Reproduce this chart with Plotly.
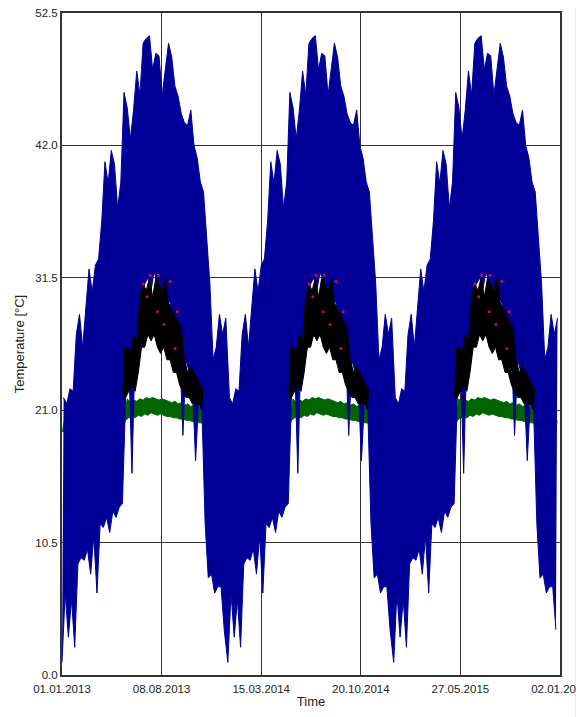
import plotly.graph_objects as go
from datetime import datetime, timedelta

# The reference repeats the same annual profile for 2013, 2014 and 2015.
years = [2013, 2014, 2015]

# Weekly envelope of the blue series (week 0 = 1 January), in degC
blue_weekly_max = [22.0, 21.5, 22.7, 22.5, 27.0, 28.6, 26.0, 29.1, 32.2, 30.4,
                   32.5, 33.0, 36.0, 40.7, 39.0, 41.6, 40.5, 37.0, 39.1, 46.2,
                   45.0, 42.5, 44.8, 47.9, 46.0, 50.1, 50.5, 50.7, 48.0, 49.3,
                   49.1, 46.0, 48.3, 50.1, 49.0, 46.7, 45.9, 44.5, 43.8, 43.6,
                   44.8, 42.0, 41.0, 39.1, 38.3, 35.0, 31.0, 25.0, 26.0, 28.6,
                   27.0, 28.3]
blue_weekly_min = [1.0, 6.5, 3.0, 6.0, 2.2, 8.8, 9.3, 9.1, 10.0, 8.0,
                   11.0, 6.5, 12.0, 11.7, 12.5, 11.3, 13.0, 12.5, 13.3, 13.6,
                   22.0, 25.0, 16.0, 26.0, 28.0, 30.0, 31.0, 31.5, 30.5, 32.0,
                   31.0, 30.5, 31.0, 30.0, 29.5, 28.0, 27.0, 26.0, 19.0, 25.0,
                   24.0, 23.0, 17.0, 22.0, 21.0, 12.0, 7.7, 8.0, 6.5, 7.0,
                   7.0, 3.6]

# Weekly envelope of the green series
green_weekly_max = [20.1, 20.2, 20.1, 20.2, 20.1, 20.2, 20.1, 20.2, 20.1, 20.2,
                    20.1, 20.2, 20.1, 20.2, 20.1, 20.2, 20.1, 20.2, 20.1, 20.2,
                    21.9, 21.6, 21.8, 21.7, 21.9, 21.8, 22.0, 21.9, 22.0, 21.9,
                    21.8, 21.9, 21.8, 21.7, 21.6, 21.7, 21.5, 21.6, 21.4, 21.5,
                    21.3, 21.4, 21.2, 21.3, 21.2, 20.1, 20.2, 20.1, 20.2, 20.1,
                    20.2, 20.1]
green_weekly_min = [19.3, 19.4, 19.3, 19.4, 19.3, 19.4, 19.3, 19.4, 19.3, 19.4,
                    19.3, 19.4, 19.3, 19.4, 19.3, 19.4, 19.3, 19.4, 19.3, 19.4,
                    20.2, 20.4, 20.5, 20.4, 20.6, 20.5, 20.7, 20.6, 20.8, 20.7,
                    20.6, 20.7, 20.6, 20.5, 20.5, 20.4, 20.4, 20.3, 20.3, 20.2,
                    20.2, 20.1, 20.1, 20.0, 20.0, 19.3, 19.4, 19.3, 19.4, 19.3,
                    19.4, 19.3]

# Black series (summer weeks only)
black_weeks = list(range(19, 45))
black_weekly_max = [26.0, 26.0, 25.5, 27.0, 26.5, 30.0, 31.0, 30.5, 31.5, 30.0,
                    31.5, 31.0, 30.5, 31.5, 29.5, 29.0, 28.5, 28.0, 27.5, 25.0,
                    24.0, 24.5, 24.0, 23.5, 23.0, 22.5]
black_weekly_min = [22.0, 22.0, 22.5, 23.0, 22.5, 24.0, 26.0, 26.0, 27.0, 26.5,
                    27.0, 26.0, 25.5, 26.0, 25.0, 25.0, 24.0, 24.0, 23.0, 22.5,
                    22.0, 22.0, 21.5, 21.5, 21.5, 21.0]

# Red points (day of year, degC)
red_days = [179, 187, 194, 210, 212, 225, 238, 249, 254]
red_values = [31.0, 30.0, 31.7, 28.8, 31.7, 27.8, 31.2, 25.9, 28.8]

y_tick_values = [0.0, 10.5, 21.0, 31.5, 42.0, 52.5]
y_tick_labels = ["0.0", "10.5", "21.0", "31.5", "42.0", "52.5"]
x_tick_labels = ["01.01.2013", "08.08.2013", "15.03.2014",
                 "20.10.2014", "27.05.2015", "02.01.2016"]

x_start = datetime(2013, 1, 1)
x_end = datetime(2016, 1, 2)
span = (x_end - x_start) / 5
x_tick_values = [x_start + span * i for i in range(6)]


def weekly(weeks, values, offset):
    xs, ys = [], []
    for yr in years:
        start = datetime(yr, 1, 1)
        for k, v in zip(weeks, values):
            xs.append(start + timedelta(days=7 * k + offset))
            ys.append(v)
    return xs, ys


def band(fig, weeks, lo, hi, color):
    lx, ly = weekly(weeks, lo, 0.0)
    hx, hy = weekly(weeks, hi, 3.5)
    fig.add_trace(go.Scatter(x=lx, y=ly, mode="lines",
                             line=dict(color=color, width=1),
                             showlegend=False, hoverinfo="skip"))
    fig.add_trace(go.Scatter(x=hx, y=hy, mode="lines",
                             line=dict(color=color, width=1),
                             fill="tonexty", fillcolor=color,
                             showlegend=False, hoverinfo="skip"))


weeks_all = list(range(52))
fig = go.Figure()
band(fig, weeks_all, green_weekly_min, green_weekly_max, "#006400")
band(fig, weeks_all, blue_weekly_min, blue_weekly_max, "#000099")

# black series drawn per year as a filled band
for yr in years:
    start = datetime(yr, 1, 1)
    lx = [start + timedelta(days=7 * k) for k in black_weeks]
    hx = [start + timedelta(days=7 * k + 3.5) for k in black_weeks]
    fig.add_trace(go.Scatter(x=lx, y=black_weekly_min, mode="lines",
                             line=dict(color="#000000", width=1),
                             showlegend=False, hoverinfo="skip"))
    fig.add_trace(go.Scatter(x=hx, y=black_weekly_max, mode="lines",
                             line=dict(color="#000000", width=1),
                             fill="tonexty", fillcolor="#000000",
                             showlegend=False, hoverinfo="skip"))

rx, ry = [], []
for yr in years:
    for d, v in zip(red_days, red_values):
        rx.append(datetime(yr, 1, 1) + timedelta(days=d))
        ry.append(v)
fig.add_trace(go.Scatter(x=rx, y=ry, mode="markers",
                         marker=dict(color="#e8003c", size=3), showlegend=False))

font = dict(family="Liberation Sans, Arial, sans-serif", size=11.5, color="#222222")
title_font = dict(family="Liberation Sans, Arial, sans-serif", size=13, color="#222222")

fig.update_layout(
    width=570, height=709,
    margin=dict(l=54, r=18, t=5, b=42, autoexpand=False),
    paper_bgcolor="white", plot_bgcolor="white",
    font=font,
    xaxis=dict(
        type="date", range=[x_start, x_end], automargin=False,
        tickmode="array", tickvals=x_tick_values, ticktext=x_tick_labels,
        showgrid=True, gridcolor="#333333", gridwidth=1,
        showline=True, linecolor="#333333", linewidth=2, mirror=True,
        ticks="", zeroline=False, ticklabeloverflow="allow",
        ticklabelstandoff=2,
        title=dict(text="Time", font=title_font, standoff=3),
    ),
    yaxis=dict(
        range=[0, 52.5], automargin=False,
        tickmode="array", tickvals=y_tick_values, ticktext=y_tick_labels,
        showgrid=True, gridcolor="#333333", gridwidth=1,
        showline=True, linecolor="#333333", linewidth=2, mirror=True,
        ticks="", zeroline=False, ticklabeloverflow="allow",
        title=dict(text="Temperature [°C]", font=title_font, standoff=8),
    ),
    shapes=[dict(type="line", xref="paper", yref="paper",
                 x0=1.034, x1=1.034, y0=-0.07, y1=1.02,
                 line=dict(color="black", width=2))],
)

fig.write_html("out.html")
